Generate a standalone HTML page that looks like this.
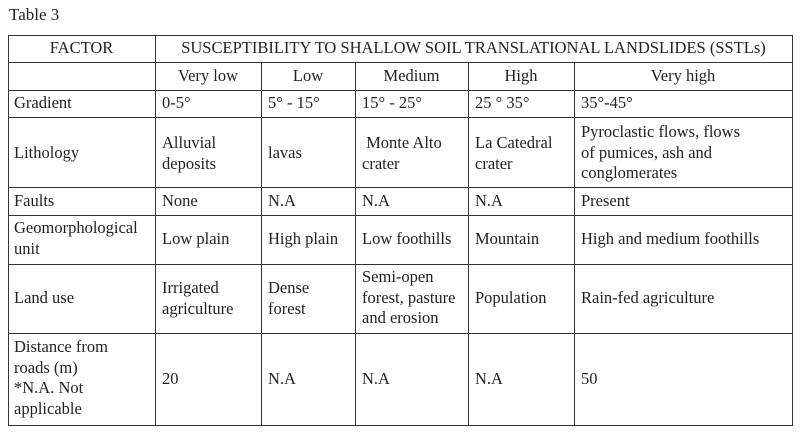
<!DOCTYPE html><html><head><style>
body{margin:0;width:800px;height:436px;background:#fff;font-family:"Liberation Serif",serif;font-size:16.5px;color:#222;position:relative;overflow:hidden}
.h{position:absolute;height:1px;background:#333;left:8px;width:785px}
.v{position:absolute;width:1px;background:#333}
.t{position:absolute;line-height:20.5px;white-space:nowrap}
.c{text-align:center}
</style></head><body>
<div class="t" style="left:9px;top:5px;font-size:17px">Table 3</div>
<div class="h" style="top:35px"></div>
<div class="h" style="top:62px"></div>
<div class="h" style="top:90px"></div>
<div class="h" style="top:117px"></div>
<div class="h" style="top:187px"></div>
<div class="h" style="top:215px"></div>
<div class="h" style="top:264px"></div>
<div class="h" style="top:333px"></div>
<div class="h" style="top:425px"></div>
<div class="v" style="left:8px;top:35px;height:391px"></div>
<div class="v" style="left:155px;top:35px;height:391px"></div>
<div class="v" style="left:261px;top:62px;height:364px"></div>
<div class="v" style="left:355px;top:62px;height:364px"></div>
<div class="v" style="left:468px;top:62px;height:364px"></div>
<div class="v" style="left:574px;top:62px;height:364px"></div>
<div class="v" style="left:792px;top:35px;height:391px"></div>

<div class="t c" style="left:8px;width:147px;top:38px">FACTOR</div>
<div class="t c" style="left:155px;width:637px;top:38px">SUSCEPTIBILITY TO SHALLOW SOIL TRANSLATIONAL LANDSLIDES (SSTLs)</div>
<div class="t c" style="left:155px;width:106px;top:66px">Very low</div>
<div class="t c" style="left:261px;width:94px;top:66px">Low</div>
<div class="t c" style="left:355px;width:113px;top:66px">Medium</div>
<div class="t c" style="left:468px;width:106px;top:66px">High</div>
<div class="t c" style="left:574px;width:218px;top:66px">Very high</div>

<div class="t" style="left:14px;top:93px">Gradient</div>
<div class="t" style="left:162px;top:93px">0-5°</div>
<div class="t" style="left:268px;top:93px">5° - 15°</div>
<div class="t" style="left:362px;top:93px">15° - 25°</div>
<div class="t" style="left:475px;top:93px">25 ° 35°</div>
<div class="t" style="left:581px;top:93px">35°-45°</div>

<div class="t" style="left:14px;top:143px">Lithology</div>
<div class="t" style="left:162px;top:133px">Alluvial<br>deposits</div>
<div class="t" style="left:268px;top:143px">lavas</div>
<div class="t" style="left:362px;top:133px">&nbsp;Monte Alto<br>crater</div>
<div class="t" style="left:475px;top:133px">La Catedral<br>crater</div>
<div class="t" style="left:581px;top:122px">Pyroclastic flows, flows<br>of pumices, ash and<br>conglomerates</div>

<div class="t" style="left:14px;top:191px">Faults</div>
<div class="t" style="left:162px;top:191px">None</div>
<div class="t" style="left:268px;top:191px">N.A</div>
<div class="t" style="left:362px;top:191px">N.A</div>
<div class="t" style="left:475px;top:191px">N.A</div>
<div class="t" style="left:581px;top:191px">Present</div>

<div class="t" style="left:14px;top:218px">Geomorphological<br>unit</div>
<div class="t" style="left:162px;top:229px">Low plain</div>
<div class="t" style="left:268px;top:229px">High plain</div>
<div class="t" style="left:362px;top:229px">Low foothills</div>
<div class="t" style="left:475px;top:229px">Mountain</div>
<div class="t" style="left:581px;top:229px">High and medium foothills</div>

<div class="t" style="left:14px;top:288px">Land use</div>
<div class="t" style="left:162px;top:278px">Irrigated<br>agriculture</div>
<div class="t" style="left:268px;top:278px">Dense<br>forest</div>
<div class="t" style="left:362px;top:267px">Semi-open<br>forest, pasture<br>and erosion</div>
<div class="t" style="left:475px;top:288px">Population</div>
<div class="t" style="left:581px;top:288px">Rain-fed agriculture</div>

<div class="t" style="left:14px;top:337px">Distance from<br>roads (m)<br>*N.A. Not<br>applicable</div>
<div class="t" style="left:162px;top:369px">20</div>
<div class="t" style="left:268px;top:369px">N.A</div>
<div class="t" style="left:362px;top:369px">N.A</div>
<div class="t" style="left:475px;top:369px">N.A</div>
<div class="t" style="left:581px;top:369px">50</div>
</body></html>
